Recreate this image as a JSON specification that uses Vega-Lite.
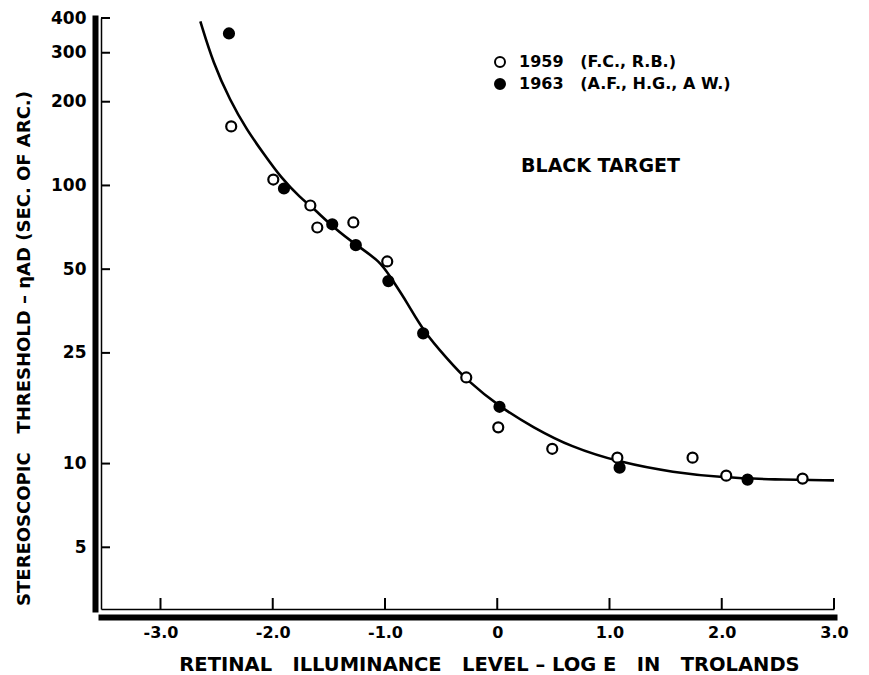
{
  "$schema": "https://vega.github.io/schema/vega-lite/v6.json",
  "width": 733,
  "height": 591,
  "autosize": {"type": "none"},
  "padding": {"left": 101, "top": 18, "right": 35, "bottom": 66},
  "background": "white",
  "config": {"view": {"stroke": null}, "font": "DejaVu Sans"},
  "datasets": {
    "curve": [
      {"x": -2.645, "y": 389}, {"x": -2.53, "y": 275}, {"x": -2.38, "y": 202}, {"x": -2.23, "y": 158},
      {"x": -2.08, "y": 130}, {"x": -1.93, "y": 107}, {"x": -1.75, "y": 90}, {"x": -1.64, "y": 83},
      {"x": -1.46, "y": 70.6}, {"x": -1.25, "y": 60.8}, {"x": -1.04, "y": 53.2}, {"x": -0.95, "y": 46.7},
      {"x": -0.8, "y": 37.8}, {"x": -0.66, "y": 30.0}, {"x": -0.445, "y": 23.8}, {"x": -0.27, "y": 19.9},
      {"x": 0.03, "y": 15.9}, {"x": 0.32, "y": 13.5}, {"x": 0.65, "y": 11.5}, {"x": 1.1, "y": 10.08},
      {"x": 1.57, "y": 9.29}, {"x": 2.01, "y": 8.91}, {"x": 2.46, "y": 8.76}, {"x": 3.0, "y": 8.7}
    ],
    "points": [
      {"x": -2.37, "y": 163, "series": "1959\u00a0\u00a0\u00a0(F.C.,\u00a0R.B.)"},
      {"x": -1.995, "y": 105, "series": "1959\u00a0\u00a0\u00a0(F.C.,\u00a0R.B.)"},
      {"x": -1.665, "y": 84.7, "series": "1959\u00a0\u00a0\u00a0(F.C.,\u00a0R.B.)"},
      {"x": -1.603, "y": 70.6, "series": "1959\u00a0\u00a0\u00a0(F.C.,\u00a0R.B.)"},
      {"x": -1.282, "y": 73.6, "series": "1959\u00a0\u00a0\u00a0(F.C.,\u00a0R.B.)"},
      {"x": -0.98, "y": 53.3, "series": "1959\u00a0\u00a0\u00a0(F.C.,\u00a0R.B.)"},
      {"x": -0.276, "y": 20.4, "series": "1959\u00a0\u00a0\u00a0(F.C.,\u00a0R.B.)"},
      {"x": 0.009, "y": 13.5, "series": "1959\u00a0\u00a0\u00a0(F.C.,\u00a0R.B.)"},
      {"x": 0.49, "y": 11.3, "series": "1959\u00a0\u00a0\u00a0(F.C.,\u00a0R.B.)"},
      {"x": 1.07, "y": 10.5, "series": "1959\u00a0\u00a0\u00a0(F.C.,\u00a0R.B.)"},
      {"x": 1.74, "y": 10.5, "series": "1959\u00a0\u00a0\u00a0(F.C.,\u00a0R.B.)"},
      {"x": 2.04, "y": 9.05, "series": "1959\u00a0\u00a0\u00a0(F.C.,\u00a0R.B.)"},
      {"x": 2.72, "y": 8.83, "series": "1959\u00a0\u00a0\u00a0(F.C.,\u00a0R.B.)"},
      {"x": -2.39, "y": 352, "series": "1963\u00a0\u00a0\u00a0(A.F.,\u00a0H.G.,\u00a0A\u00a0W.)"},
      {"x": -1.9, "y": 97.5, "series": "1963\u00a0\u00a0\u00a0(A.F.,\u00a0H.G.,\u00a0A\u00a0W.)"},
      {"x": -1.47, "y": 72.5, "series": "1963\u00a0\u00a0\u00a0(A.F.,\u00a0H.G.,\u00a0A\u00a0W.)"},
      {"x": -1.26, "y": 61, "series": "1963\u00a0\u00a0\u00a0(A.F.,\u00a0H.G.,\u00a0A\u00a0W.)"},
      {"x": -0.97, "y": 45.3, "series": "1963\u00a0\u00a0\u00a0(A.F.,\u00a0H.G.,\u00a0A\u00a0W.)"},
      {"x": -0.66, "y": 29.4, "series": "1963\u00a0\u00a0\u00a0(A.F.,\u00a0H.G.,\u00a0A\u00a0W.)"},
      {"x": 0.02, "y": 16.0, "series": "1963\u00a0\u00a0\u00a0(A.F.,\u00a0H.G.,\u00a0A\u00a0W.)"},
      {"x": 1.09, "y": 9.67, "series": "1963\u00a0\u00a0\u00a0(A.F.,\u00a0H.G.,\u00a0A\u00a0W.)"},
      {"x": 2.23, "y": 8.76, "series": "1963\u00a0\u00a0\u00a0(A.F.,\u00a0H.G.,\u00a0A\u00a0W.)"}
    ],
    "notes": [{"x": 0.92, "y": 117, "label": "BLACK TARGET"}],
    "xticks": [
      {"x": -3, "y": 3}, {"x": -2, "y": 3}, {"x": -1, "y": 3}, {"x": 0, "y": 3},
      {"x": 1, "y": 3}, {"x": 2, "y": 3}, {"x": 3, "y": 3}
    ],
    "yticks": [
      {"x": -3.53, "y": 5}, {"x": -3.53, "y": 10}, {"x": -3.53, "y": 25}, {"x": -3.53, "y": 50},
      {"x": -3.53, "y": 100}, {"x": -3.53, "y": 200}, {"x": -3.53, "y": 300}, {"x": -3.53, "y": 400}
    ]
  },
  "layer": [
    {
      "data": {"name": "curve"},
      "mark": {"type": "line", "color": "black", "strokeWidth": 2.6, "interpolate": "basis"},
      "encoding": {
        "x": {
          "field": "x", "type": "quantitative",
          "scale": {"domain": [-3.53, 3.0], "nice": false, "zero": false},
          "axis": {
            "orient": "top", "offset": -591, "domainWidth": 1.5, "domainColor": "black",
            "ticks": false, "grid": false,
            "values": [-3, -2, -1, 0, 1, 2, 3], "labels": false, "title": null
          }
        },
        "y": {
          "field": "y", "type": "quantitative",
          "scale": {"type": "log", "domain": [3, 400], "nice": false, "zero": false},
          "axis": {
            "orient": "right", "offset": -733, "domainWidth": 1.5, "domainColor": "black",
            "ticks": false, "grid": false,
            "values": [5, 10, 25, 50, 100, 200, 300, 400], "labels": false, "title": null
          }
        }
      }
    },
    {
      "data": {"name": "points"},
      "mark": {"type": "point", "shape": "circle", "filled": true, "stroke": "black", "strokeWidth": 2.2, "opacity": 1, "size": 100},
      "encoding": {
        "x": {
          "field": "x", "type": "quantitative",
          "scale": {"domain": [-3.53, 3.0], "nice": false, "zero": false},
          "axis": {
            "orient": "bottom", "offset": 8, "domainWidth": 6, "domainColor": "black", "domainCap": "square",
            "ticks": false, "grid": false,
            "values": [-3, -2, -1, 0, 1, 2, 3],
            "labelExpr": "datum.value == 0 ? '0' : replace(format(datum.value, '.1f'), '\u2212', '-')",
            "labelFont": "DejaVu Sans", "labelFontWeight": "bold", "labelFontSize": 16, "labelColor": "black",
            "labelPadding": 7, "labelFlush": false, "labelOverlap": false, "labelBound": false,
            "title": "RETINAL\u00a0\u00a0\u00a0ILLUMINANCE\u00a0\u00a0\u00a0LEVEL\u00a0–\u00a0LOG\u00a0E\u00a0\u00a0\u00a0IN\u00a0\u00a0\u00a0TROLANDS",
            "titleFont": "DejaVu Sans", "titleFontWeight": "bold", "titleFontSize": 19.5, "titleColor": "black",
            "titleX": 388, "titleY": 53, "titleBaseline": "alphabetic", "titleAlign": "center"
          }
        },
        "y": {
          "field": "y", "type": "quantitative",
          "scale": {"type": "log", "domain": [3, 400], "nice": false, "zero": false},
          "axis": {
            "orient": "left", "offset": 6, "domainWidth": 6, "domainColor": "black", "domainCap": "square",
            "ticks": false, "grid": false,
            "values": [5, 10, 25, 50, 100, 200, 300, 400],
            "labelFont": "DejaVu Sans", "labelFontWeight": "bold", "labelFontSize": 17, "labelColor": "black",
            "labelPadding": 9, "labelFlush": false, "labelOverlap": false, "labelBound": false,
            "title": "STEREOSCOPIC\u00a0\u00a0\u00a0THRESHOLD\u00a0–\u00a0ηAD\u00a0(SEC.\u00a0OF\u00a0ARC.)",
            "titleFont": "DejaVu Sans", "titleFontWeight": "bold", "titleFontSize": 18, "titleColor": "black",
            "titleX": -66, "titleY": 330, "titleBaseline": "alphabetic", "titleAlign": "center", "titleAngle": -90
          }
        },
        "fill": {
          "field": "series", "type": "nominal",
          "scale": {
            "domain": ["1959\u00a0\u00a0\u00a0(F.C.,\u00a0R.B.)", "1963\u00a0\u00a0\u00a0(A.F.,\u00a0H.G.,\u00a0A\u00a0W.)"],
            "range": ["white", "black"]
          },
          "legend": {
            "orient": "none", "legendX": 391, "legendY": 36, "padding": 0, "title": null,
            "symbolType": "circle", "symbolSize": 100, "symbolStrokeWidth": 2, "symbolStrokeColor": "black",
            "labelFont": "DejaVu Sans", "labelFontWeight": "bold", "labelFontSize": 16, "labelColor": "black",
            "labelOffset": 11, "rowPadding": 4, "labelLimit": 400
          }
        }
      }
    },
    {
      "data": {"name": "notes"},
      "mark": {"type": "text", "font": "DejaVu Sans", "fontWeight": "bold", "fontSize": 19, "align": "center", "baseline": "middle", "color": "black"},
      "encoding": {
        "x": {"field": "x", "type": "quantitative", "scale": {"domain": [-3.53, 3.0], "nice": false, "zero": false}, "axis": null},
        "y": {"field": "y", "type": "quantitative", "scale": {"type": "log", "domain": [3, 400], "nice": false, "zero": false}, "axis": null},
        "text": {"field": "label"}
      }
    },
    {
      "data": {"name": "xticks"},
      "mark": {"type": "tick", "orient": "vertical", "size": 11, "thickness": 2, "color": "black", "opacity": 1, "yOffset": -5.5},
      "encoding": {
        "x": {"field": "x", "type": "quantitative", "scale": {"domain": [-3.53, 3.0], "nice": false, "zero": false}, "axis": null},
        "y": {"field": "y", "type": "quantitative", "scale": {"type": "log", "domain": [3, 400], "nice": false, "zero": false}, "axis": null}
      }
    },
    {
      "data": {"name": "yticks"},
      "mark": {"type": "tick", "orient": "horizontal", "size": 9, "thickness": 2, "color": "black", "opacity": 1, "xOffset": 4.5},
      "encoding": {
        "x": {"field": "x", "type": "quantitative", "scale": {"domain": [-3.53, 3.0], "nice": false, "zero": false}, "axis": null},
        "y": {"field": "y", "type": "quantitative", "scale": {"type": "log", "domain": [3, 400], "nice": false, "zero": false}, "axis": null}
      }
    }
  ],
  "resolve": {"scale": {"x": "independent", "y": "independent"}, "axis": {"x": "independent", "y": "independent"}}
}
